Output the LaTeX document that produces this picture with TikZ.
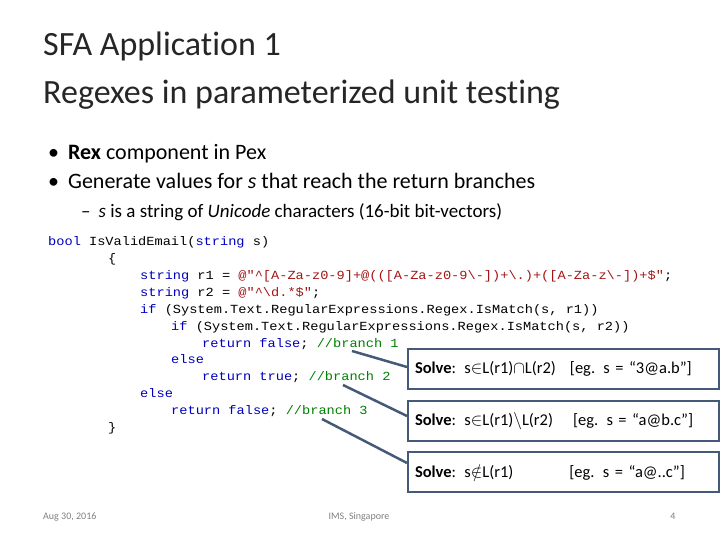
\documentclass[tikz,border=0pt]{standalone}
\usepackage{fontspec}
\setmainfont{Carlito}[Ligatures=NoCommon]
\newfontfamily\codefont[FakeStretch=1.1]{Liberation Mono}
\usepackage{amssymb}
\definecolor{kw}{RGB}{0,0,190}
\definecolor{str}{RGB}{163,21,21}
\definecolor{cmt}{RGB}{0,128,0}
\definecolor{boxc}{RGB}{68,90,120}
\begin{document}
\begin{tikzpicture}[x=1pt,y=-1pt,
  code/.style={anchor=base west,inner sep=0pt,font=\codefont\fontsize{12.4}{14}\selectfont},
  sbox/.style={draw=boxc,line width=2pt,minimum width=311pt,text width=297pt,align=left,anchor=north west,inner xsep=7pt,inner ysep=0pt,minimum height=40pt,font=\fontsize{16.5}{19}\selectfont},
  conn/.style={draw=boxc,line width=2.5pt},
  foot/.style={font=\fontsize{10}{12}\selectfont,text=gray,anchor=base,inner sep=0pt}]
\useasboundingbox (0,0) rectangle (720,540);
\node[anchor=base west,inner sep=0pt,font=\fontsize{34}{40}\selectfont,text=black!85] (t1) at (43,56) {SFA Application 1};
\node[anchor=base west,inner sep=0pt,font=\fontsize{34}{40}\selectfont,text=black!85] (t2) at (43,104) {Regexes in parameterized unit testing};
\node[anchor=base west,inner sep=0pt,font=\fontsize{22}{26}\selectfont] (b1) at (48,160) {\textbullet\hspace{9pt}\textbf{Rex} component in Pex};
\node[anchor=base west,inner sep=0pt,font=\fontsize{22}{26}\selectfont] (b2) at (48,189) {\textbullet\hspace{9pt}Generate values for \textit{s} that reach the return branches};
\node[anchor=base west,inner sep=0pt,font=\fontsize{19}{22}\selectfont] (b3) at (81,218) {--\hspace{8pt}\textit{s} is a string of \textit{Unicode} characters (16-bit bit-vectors)};
\node[code] (c1) at (48,245) {\textcolor{kw}{bool} IsValidEmail(\textcolor{kw}{string} s)};
\node[code] (c2) at (108,262) {\{};
\node[code] (c3) at (140,279) {\textcolor{kw}{string} r1 = \textcolor{str}{@"\string^[A-Za-z0-9]+@(([A-Za-z0-9\string\-])+\string\.)+([A-Za-z\string\-])+\$"};};
\node[code] (c4) at (140,296) {\textcolor{kw}{string} r2 = \textcolor{str}{@"\string^\string\d.*\$"};};
\node[code] (c5) at (140,313) {\textcolor{kw}{if} (System.Text.RegularExpressions.Regex.IsMatch(s, r1))};
\node[code] (c6) at (171,330) {\textcolor{kw}{if} (System.Text.RegularExpressions.Regex.IsMatch(s, r2))};
\node[code] (c7) at (202,347) {\textcolor{kw}{return false}; \textcolor{cmt}{//branch 1}};
\node[code] (c8) at (171,363) {\textcolor{kw}{else}};
\node[code] (c9) at (202,380) {\textcolor{kw}{return true}; \textcolor{cmt}{//branch 2}};
\node[code] (c10) at (140,397) {\textcolor{kw}{else}};
\node[code] (c11) at (171,414) {\textcolor{kw}{return false}; \textcolor{cmt}{//branch 3}};
\node[code] (c12) at (108,431) {\}};
\coordinate (p1) at (352,351);
\coordinate (p2) at (343,385);
\coordinate (p3) at (322,419);
\node[sbox] (s1) at (407,348) {\textbf{Solve}: s$\in$L(r1)$\cap$L(r2)\hspace{14pt}[eg. s = “3@a.b”]};
\node[sbox] (s2) at (407,400) {\textbf{Solve}: s$\in$L(r1)$\backslash$L(r2)\hspace{20pt}[eg. s = “a@b.c”]};
\node[sbox] (s3) at (407,451) {\textbf{Solve}: s$\notin$L(r1)\hspace{56pt}[eg. s = “a@..c”]};
\coordinate (q1) at (407,367);
\coordinate (q2) at (407,416);
\coordinate (q3) at (407,463);
\draw[conn] (p1) -- (q1);
\draw[conn] (p2) -- (q2);
\draw[conn] (p3) -- (q3);
\node[foot,anchor=base west] (f1) at (43,519) {Aug 30, 2016};
\node[foot] (f2) at (359,519) {IMS, Singapore};
\node[foot] (f3) at (673,519) {4};
\end{tikzpicture}
\end{document}
